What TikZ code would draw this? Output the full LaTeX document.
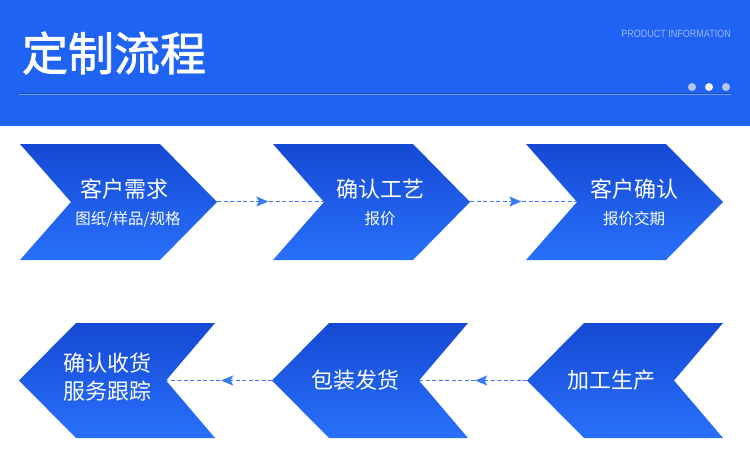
\documentclass[tikz,border=0pt]{standalone}
\usepackage{fontspec}
\usetikzlibrary{arrows.meta,decorations.markings}
\newfontfamily\cjk{Noto Sans CJK SC}
\newfontfamily\cjkb{Noto Sans CJK SC}[FakeBold=1.6]
\newfontfamily\latinf{Liberation Sans}
\definecolor{hdr}{HTML}{1F63F3}
\definecolor{hdrline}{HTML}{1A4CC4}
\definecolor{hdrlight}{HTML}{6E9CF6}
\definecolor{chevtop}{HTML}{1549D3}
\definecolor{chevbot}{HTML}{2870FB}
\definecolor{conn}{HTML}{3A7AF5}
\definecolor{prodinfo}{HTML}{9DB6F5}
\definecolor{dotside}{HTML}{B3C7F2}
\definecolor{dotmid}{HTML}{F2F2F0}
\tikzset{
  chev/.style={top color=chevtop, bottom color=chevbot, draw=none},
  maintxt/.style={text=white, font=\cjk\fontsize{22}{28}\selectfont, inner sep=0pt, align=center},
  subtxt/.style={text=white, font=\cjk\fontsize{15.5}{18}\selectfont, inner sep=0pt},
  conn/.style={draw=conn, line width=1.2pt, dash pattern=on 4pt off 2.5pt,
    postaction={decorate},
    decoration={markings, mark=at position 0.48 with {\arrow[conn, solid]{Stealth[length=12pt,width=10pt,inset=2.5pt]}}}},
  hdot/.style={circle, inner sep=0pt, minimum size=8pt, draw=none},
}
\begin{document}
\begin{tikzpicture}[x=1pt,y=-1pt]
\useasboundingbox (0,0) rectangle (750,467);
\fill[white] (0,0) rectangle (750,467);
% header
\fill[hdr] (0,0) rectangle (750,126);
\node[text=white, font=\cjkb\fontsize{46}{50}\selectfont, inner sep=0pt] (title) at (114,53) {定制流程};
\node[text=prodinfo, font=\latinf\fontsize{10.6}{12}\selectfont, inner sep=0pt, anchor=east, xscale=0.85] (pinfo) at (731,34) {PRODUCT INFORMATION};
\draw[hdrline, line width=0.8pt] (19,93) -- (731,93);
\draw[hdrlight, line width=0.6pt] (19,94.2) -- (731,94.2);
\node[hdot, fill=dotside] (d1) at (692,87) {};
\node[hdot, fill=dotmid] (d2) at (709,87) {};
\node[hdot, fill=dotside] (d3) at (726,87) {};
% top row chevrons (pointing right)
\foreach \x/\n in {20/a, 273/b, 526/c}{
  \shade[chev] (\x,144) -- (\x+140,144) -- (\x+197,202) -- (\x+140,260) -- (\x,260) -- (\x+51,202) -- cycle;
  \coordinate (\n tip) at (\x+197,201.5);
  \coordinate (\n notch) at (\x+51,201.5);
}
\node[maintxt] (ta1) at (124,189) {客户需求};
\node[subtxt] (ta2) at (128,219) {图纸/样品/规格};
\node[maintxt] (tb1) at (380,189) {确认工艺};
\node[subtxt] (tb2) at (380,219) {报价};
\node[maintxt] (tc1) at (634,189) {客户确认};
\node[subtxt] (tc2) at (634,219) {报价交期};
% bottom row chevrons (pointing left)
\foreach \x/\n in {19/d, 272/e, 527/f}{
  \shade[chev] (\x+57,323) -- (\x+196,323) -- (\x+147,380.5) -- (\x+196,438) -- (\x+57,438) -- (\x,380.5) -- cycle;
  \coordinate (\n tip) at (\x,380.5);
  \coordinate (\n notch) at (\x+147,380.5);
}
\node[maintxt] (td) at (107,377.5) {确认收货\\服务跟踪};
\node[maintxt] (te) at (355,380) {包装发货};
\node[maintxt] (tf) at (611,380) {加工生产};
% connectors
\draw[conn] (atip) -- (bnotch);
\draw[conn] (btip) -- (cnotch);
\draw[conn] (ftip) -- (enotch);
\draw[conn] (etip) -- (dnotch);
\end{tikzpicture}
\end{document}
